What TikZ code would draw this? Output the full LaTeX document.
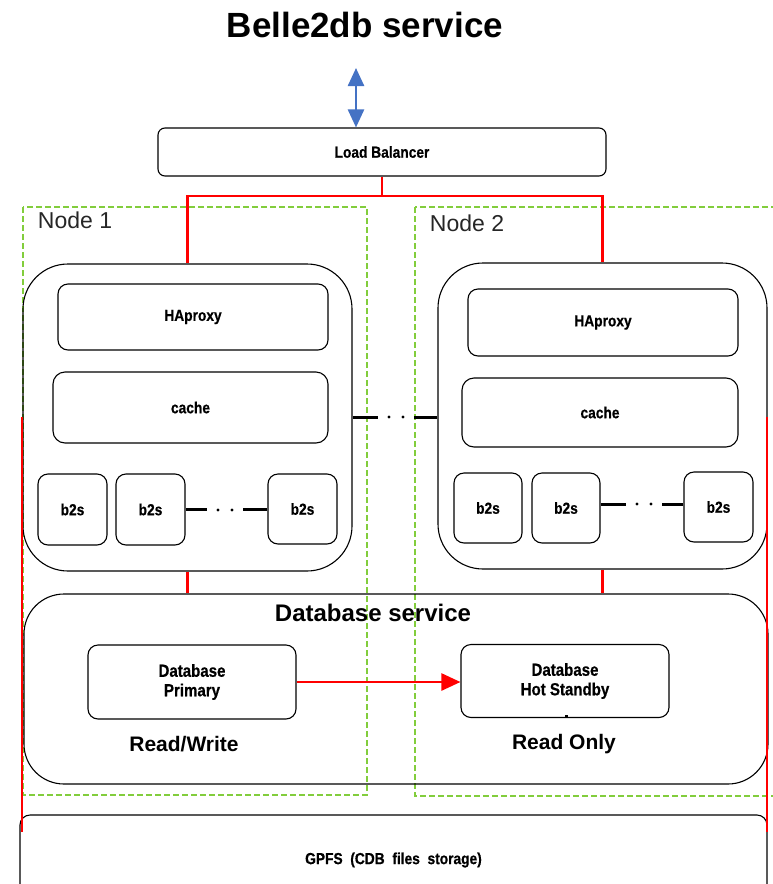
\documentclass[tikz,border=0pt]{standalone}
\usepackage{fontspec}
\setmainfont{Liberation Sans}
\newfontfamily\condfont{Liberation Sans Bold}[FakeStretch=0.86,FakeBold=0.6]
\usetikzlibrary{arrows.meta,calc}
\definecolor{redl}{RGB}{255,0,0}
\definecolor{bluea}{RGB}{68,114,196}
\definecolor{greend}{RGB}{130,205,60}
\definecolor{labgray}{RGB}{38,38,38}
\newcommand{\myfs}[1]{\fontsize{#1}{#1}\selectfont}
\begin{document}
\begin{tikzpicture}[x=1pt,y=-1pt,
  box/.style={draw, line width=1.1pt, rounded corners=10pt, inner sep=0pt, align=center, font=\condfont\myfs{16}},
  bigbox/.style={box, rounded corners=45pt},
  frame/.style={draw=greend, line width=1.2pt, dash pattern=on 6pt off 3pt},
  redline/.style={draw=redl, line width=2.5pt},
  conn/.style={draw, line width=3pt},
  dotc/.style={fill, circle, inner sep=0pt, minimum size=3.4pt},
  nodelab/.style={font=\myfs{23}, text=labgray},
  dblab/.style={font=\myfs{21}\bfseries}
]
\useasboundingbox (0,0) rectangle (772,884);

% title
\node[font=\myfs{35}\bfseries] (title) at (365,25) {Belle2db service};

% node frames
\draw[frame] (23,207) rectangle (367,795);
\draw[frame] (415,207) rectangle (790,796);
\node[nodelab] (lab1) at (75,220) {Node 1};
\node[nodelab] (lab2) at (467,223) {Node 2};

% load balancer
\node[box, rounded corners=7pt, minimum width=448pt, minimum height=48pt] (lb) at (382,152) {Load Balancer};

% node 1
\node[bigbox, minimum width=329pt, minimum height=307pt] (n1) at (187.5,417.5) {};
\node[box, minimum width=270pt, minimum height=66pt] (ha1) at (193,317) {HAproxy};
\node[box, rounded corners=12pt, minimum width=275pt, minimum height=71pt] (ca1) at (190.5,407.5) {cache};
\node[box, minimum width=69pt, minimum height=71pt] (b11) at (72.5,509.5) {b2s};
\node[box, minimum width=69pt, minimum height=71pt] (b12) at (150.5,509.5) {b2s};
\node[box, minimum width=69pt, minimum height=70pt] (b13) at (302.5,509) {b2s};

% node 2
\node[bigbox, minimum width=329pt, minimum height=306pt] (n2) at (602.5,416) {};
\node[box, minimum width=270pt, minimum height=67pt] (ha2) at (603,322.5) {HAproxy};
\node[box, rounded corners=12pt, minimum width=276pt, minimum height=69pt] (ca2) at (600,412.5) {cache};
\node[box, minimum width=68pt, minimum height=70pt] (b21) at (488,508) {b2s};
\node[box, minimum width=68pt, minimum height=70pt] (b22) at (566,508) {b2s};
\node[box, minimum width=69pt, minimum height=70pt] (b23) at (718.5,507) {b2s};

% database service
\node[box, rounded corners=40pt, minimum width=744pt, minimum height=190pt] (dbs) at (396,689) {};
\node[font=\myfs{24}\bfseries] (dbst) at (373,613) {Database service};
\node[box, font=\condfont\myfs{17.5}, minimum width=208pt, minimum height=74pt] (dp) at (192,682) {Database\\[2pt]Primary};
\node[box, font=\condfont\myfs{17.5}, minimum width=208pt, minimum height=73pt] (dh) at (565,681) {Database\\[2pt]Hot Standby};
\node[dblab] (rw) at (184,744) {Read/Write};
\node[dblab] (ro) at (564,744) {Read Only};
\fill (564.5,715) rectangle (567.5,718);

% GPFS
\node[box, minimum width=747pt, minimum height=90pt] (gpfs) at (393.5,860) {GPFS\ \ (CDB\ \ files\ \ storage)};

% blue arrow
\coordinate (bt) at (356,68);
\draw[draw=bluea, line width=2.5pt, {Triangle[length=18pt,width=16pt]}-{Triangle[length=18pt,width=16pt]}] (bt) -- (bt |- lb.north);

% red connections
\coordinate (j) at (lb.south |- 0,196);
\draw[redline] (lb.south) -- (j);
\draw[redline] (j) -| (n1.north);
\draw[redline] (j) -| (n2.north);
\draw[redline] (n1.south) -- (n1.south |- dbs.north);
\draw[redline] (n2.south) -- (n2.south |- dbs.north);
\coordinate (rl1) at (22,417);
\coordinate (rl2) at (22,832);
\coordinate (rr1) at (767,417);
\coordinate (rr2) at (767,832);
\draw[draw=redl, line width=2pt] (rl1) -- (rl2);
\draw[draw=redl, line width=2pt] (rr1) -- (rr2);
\draw[redline, -{Triangle[length=19pt,width=17pt]}] (dp.east) -- (dp.east -| dh.west);

% dotted connections
\draw[conn] (n1.east) -- ++(25,0);
\node[dotc] (d1) at (389,417) {};
\node[dotc] (d2) at (403,417) {};
\draw[conn] (n2.west |- n1.east) -- ++(-23,0);

\draw[conn] (b12.east) -- ++(21,0);
\node[dotc] (d3) at (218,510) {};
\node[dotc] (d4) at (232,510) {};
\draw[conn] (b13.west |- b12.east) -- ++(-24,0);

\draw[conn] (b22.east |- 0,504) -- ++(25,0);
\node[dotc] (d5) at (637,504) {};
\node[dotc] (d6) at (651,504) {};
\draw[conn] (b23.west |- 0,504) -- ++(-21,0);
\end{tikzpicture}
\end{document}
